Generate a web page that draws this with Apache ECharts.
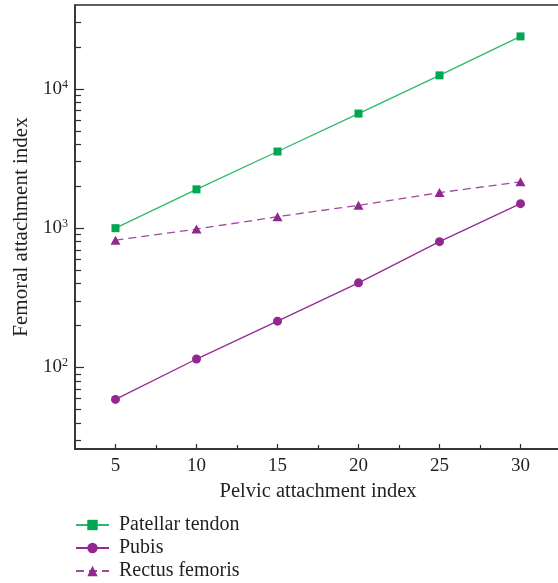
<!DOCTYPE html>
<html><head><meta charset="utf-8">
<script src="https://cdn.jsdelivr.net/npm/echarts@6/dist/echarts.min.js"></script>
<style>html,body{margin:0;padding:0;background:#fff}#c{width:558px;height:583px}</style>
</head><body><div id="c"></div>
<script>
const xValues = [5, 10, 15, 20, 25, 30];
const patellar = [1000, 1900, 3550, 6650, 12500, 23800];
const pubis = [59, 115, 215, 405, 800, 1500];
const rectus = [820, 985, 1210, 1460, 1800, 2150];
const xMajorTicks = [5, 10, 15, 20, 25, 30];
const xMinorTicks = [7.5, 12.5, 17.5, 22.5, 27.5];
const yMajorTicks = [100, 1000, 10000];
const yMinorTicks = [30, 40, 50, 60, 70, 80, 90, 200, 300, 400, 500, 600, 700, 800, 900, 2000, 3000, 4000, 5000, 6000, 7000, 8000, 9000, 20000, 30000];

const FONT = 'Liberation Serif';
const TXT = '#231f20';
const AX = '#2b2b2b';
const pairs = (ys) => xValues.map((x, i) => [x, ys[i]]);

const chart = echarts.init(document.getElementById('c'));
chart.setOption({
  animation: false,
  grid: { left: 75, top: 5, width: 486, height: 444, show: true, borderColor: AX, borderWidth: 1.5, outerBoundsMode: 'none', containLabel: false },
  xAxis: [
    { type: 'value', min: 2.5, max: 32.5, position: 'bottom',
      name: 'Pelvic attachment index', nameLocation: 'middle', nameGap: 30,
      nameTextStyle: { fontFamily: FONT, fontSize: 20.5, color: TXT },
      axisLine: { show: true, lineStyle: { color: AX, width: 1.5 } },
      axisTick: { show: true, inside: true, length: 5, customValues: xMajorTicks, lineStyle: { color: AX, width: 1.2 } },
      axisLabel: { show: true, customValues: xMajorTicks, margin: 8, fontFamily: FONT, fontSize: 19, color: TXT },
      splitLine: { show: false } },
    { type: 'value', min: 2.5, max: 32.5, position: 'bottom',
      axisLine: { show: false },
      axisTick: { show: true, inside: true, length: 4, customValues: xMinorTicks, lineStyle: { color: AX, width: 1.2 } },
      axisLabel: { show: false },
      splitLine: { show: false } }
  ],
  yAxis: [
    { type: 'log', logBase: 10, min: 26, max: 40000, position: 'left',
      name: 'Femoral attachment index', nameLocation: 'middle', nameGap: 42,
      nameTextStyle: { fontFamily: FONT, fontSize: 21, color: TXT },
      axisLine: { show: true, lineStyle: { color: AX, width: 1.5 } },
      axisTick: { show: true, inside: true, length: 9, customValues: yMajorTicks, lineStyle: { color: AX, width: 1.2 } },
      axisLabel: { show: true, customValues: yMajorTicks, margin: 7, fontFamily: FONT, fontSize: 19, color: TXT,
        formatter: v => '10{s|' + Math.round(Math.log10(v)) + '}',
        rich: { s: { fontFamily: FONT, fontSize: 12, color: TXT, verticalAlign: 'top', padding: [0, 0, 9, 0] } } },
      splitLine: { show: false } },
    { type: 'log', logBase: 10, min: 26, max: 40000, position: 'left',
      axisLine: { show: false },
      axisTick: { show: true, inside: true, length: 6, customValues: yMinorTicks, lineStyle: { color: AX, width: 1.2 } },
      axisLabel: { show: false },
      splitLine: { show: false } }
  ],
  legend: {
    orient: 'vertical', left: 75, top: 515, padding: 0, itemWidth: 33, itemHeight: 13, itemGap: 3, height: 80,
    textStyle: { fontFamily: FONT, fontSize: 20, color: TXT, padding: [0, 0, 0, 5] },
    data: ['Patellar tendon', 'Pubis', 'Rectus femoris']
  },
  series: [
    { name: 'Patellar tendon', type: 'line', data: pairs(patellar), symbol: 'rect', symbolSize: 8,
      lineStyle: { color: '#2dba6a', width: 1.3 }, itemStyle: { color: '#00a651' } },
    { name: 'Pubis', type: 'line', data: pairs(pubis), symbol: 'circle', symbolSize: 9,
      lineStyle: { color: '#952a93', width: 1.3 }, itemStyle: { color: '#92278f' } },
    { name: 'Rectus femoris', type: 'line', data: pairs(rectus), symbol: 'triangle', symbolSize: [10, 9],
      lineStyle: { color: '#a04a9e', width: 1.3, type: [8, 5] }, itemStyle: { color: '#92278f' } }
  ]
});
</script></body></html>
